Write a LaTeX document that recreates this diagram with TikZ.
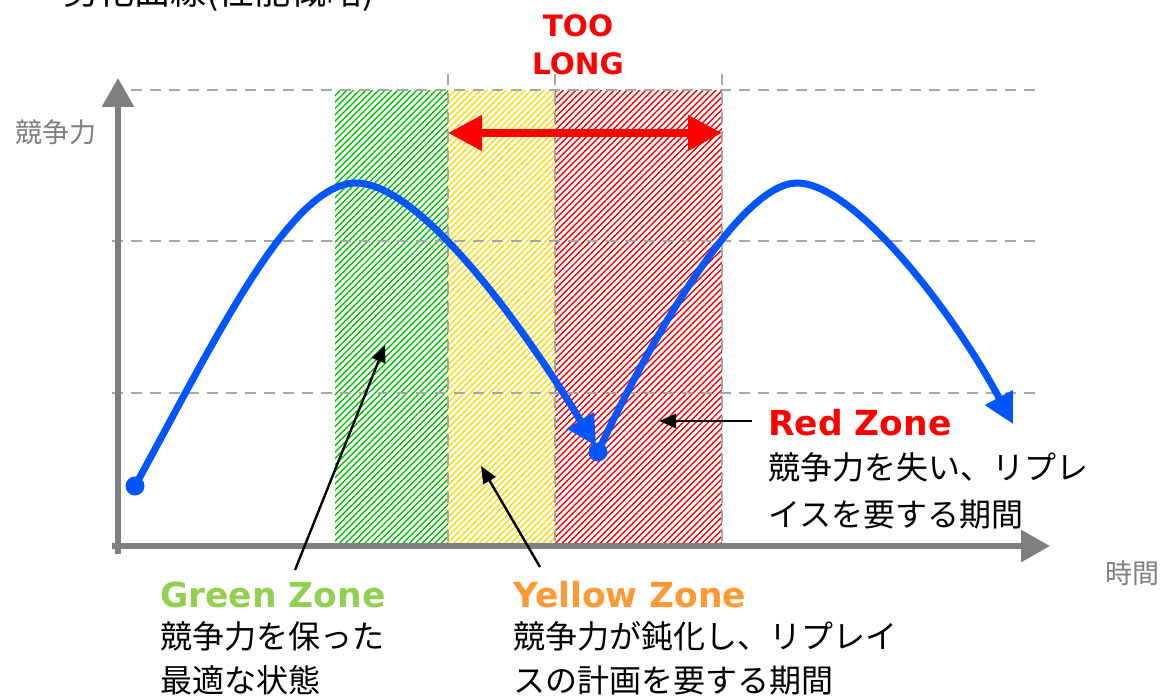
\documentclass[tikz,border=0pt]{standalone}
\usepackage{fontspec}
\usetikzlibrary{arrows.meta,patterns.meta}
\newfontfamily\jp{Noto Sans CJK JP}
\newfontfamily\lat{DejaVu Sans}
\definecolor{axisgray}{HTML}{7F7F7F}
\definecolor{gridgray}{HTML}{A6A6A6}
\definecolor{curveblue}{HTML}{0055FF}
\definecolor{hgreen}{HTML}{00C000}
\definecolor{hyellow}{HTML}{FFD800}
\definecolor{hred}{HTML}{EE0000}
\definecolor{zgreen}{HTML}{92D050}
\definecolor{zorange}{HTML}{FF9933}
\definecolor{zred}{HTML}{FF0000}
\begin{document}
\begin{tikzpicture}[x=1pt,y=-1pt,
  gridline/.style={gridgray,line width=2.6pt,dash pattern=on 11pt off 8pt},
  axisline/.style={axisgray,line width=6pt,-{Triangle[length=29pt,width=31pt]}},
  hatch/.style={pattern={Lines[angle=45,distance=4.5pt,line width=1.4pt]},pattern color=#1},
  curve/.style={curveblue,line width=7pt,-{Triangle[length=30pt,width=30pt]}},
  dot/.style={circle,fill=curveblue,inner sep=0pt,minimum size=19pt},
  pointer/.style={black,line width=2.4pt,-{Triangle[length=17pt,width=14pt]}},
  ztitle/.style={anchor=base west,inner sep=0pt,font=\lat\bfseries\fontsize{34.5}{34.5}\selectfont},
  jptext/.style={anchor=base west,inner sep=0pt,font=\jp\fontsize{32}{32}\selectfont},
  axlabel/.style={anchor=base west,inner sep=0pt,text=axisgray,font=\jp\fontsize{27}{27}\selectfont}]
\useasboundingbox (0,0) rectangle (1165,698);
\begin{scope}
\clip (0,0) rectangle (1165,698);
% partially visible title at the top edge
\node[anchor=base west,inner sep=0pt,text=black,font=\jp\fontsize{36}{36}\selectfont] (title) at (62,5) {劣化曲線(性能概略)};
% hatched zones
\fill[hatch=hgreen] (335,91) rectangle (448,545);
\fill[hatch=hyellow] (448,91) rectangle (555,545);
\fill[hatch=hred] (555,91) rectangle (722,545);
% grid
\coordinate (g1a) at (112,90);  \coordinate (g1b) at (1036,90);
\coordinate (g2a) at (112,241); \coordinate (g2b) at (1036,241);
\coordinate (g3a) at (112,393); \coordinate (g3b) at (1036,393);
\draw[gridline] (g1a) -- (g1b);
\draw[gridline] (g2a) -- (g2b);
\draw[gridline] (g3a) -- (g3b);
\coordinate (v1a) at (448,74); \coordinate (v1b) at (448,546);
\coordinate (v2a) at (555,74); \coordinate (v2b) at (555,546);
\coordinate (v3a) at (722,74); \coordinate (v3b) at (722,546);
\draw[gridline] (v1a) -- (v1b);
\draw[gridline] (v2a) -- (v2b);
\draw[gridline] (v3a) -- (v3b);
% axes
\coordinate (yb) at (118,554); \coordinate (yt) at (118,78);
\coordinate (xl) at (112,546); \coordinate (xr) at (1050,546);
\draw[axisline] (yb) -- (yt);
\draw[axisline] (xl) -- (xr);
\node[axlabel] (ylab) at (15,143) {競争力};
\node[axlabel] (xlab) at (1105,583) {時間};
% curves
\node[dot] (d1) at (135,486) {};
\node[dot] (d2) at (598,452) {};
\coordinate (peak1) at (356,183);
\coordinate (tip1) at (596,446);
\coordinate (peak2) at (797,183);
\coordinate (tip2) at (1013,424);
\draw[curve] (d1.center) .. controls (215,340) and (290,183) .. (peak1)
  .. controls (418,183) and (518,318) .. (tip1);
\draw[curve] (d2.center) .. controls (650,340) and (740,183) .. (peak2)
  .. controls (855,183) and (955,315) .. (tip2);
% too long
\coordinate (tlL) at (448,133); \coordinate (tlR) at (722,133);
\draw[zred,line width=7.5pt,{Triangle[length=34pt,width=34pt]}-{Triangle[length=34pt,width=34pt]}] (tlL) -- (tlR);
\node[text=zred,align=center,inner sep=0pt,font=\lat\bfseries\fontsize{29.5}{38}\selectfont] (toolong) at (578,45) {TOO\\LONG};
% zone labels
\node[ztitle,text=zgreen] (gz) at (160,607) {Green Zone};
\node[jptext] (gz1) at (160,648) {競争力を保った};
\node[jptext] (gz2) at (160,692) {最適な状態};
\node[ztitle,text=zorange] (yz) at (513,607) {Yellow Zone};
\node[jptext] (yz1) at (513,648) {競争力が鈍化し、リプレイ};
\node[jptext] (yz2) at (513,692) {スの計画を要する期間};
\node[ztitle,text=zred] (rz) at (768,435) {Red Zone};
\node[jptext] (rz1) at (768,479) {競争力を失い、リプレ};
\node[jptext] (rz2) at (768,526) {イスを要する期間};
% pointers
\coordinate (gtail) at (295,570); \coordinate (gtip) at (385,345);
\coordinate (ytail) at (540,567); \coordinate (ytip) at (481,466);
\coordinate (rtail) at (752,421); \coordinate (rtip) at (659,421);
\draw[pointer] (gtail) -- (gtip);
\draw[pointer] (ytail) -- (ytip);
\draw[pointer] (rtail) -- (rtip);
\end{scope}
\end{tikzpicture}
\end{document}
